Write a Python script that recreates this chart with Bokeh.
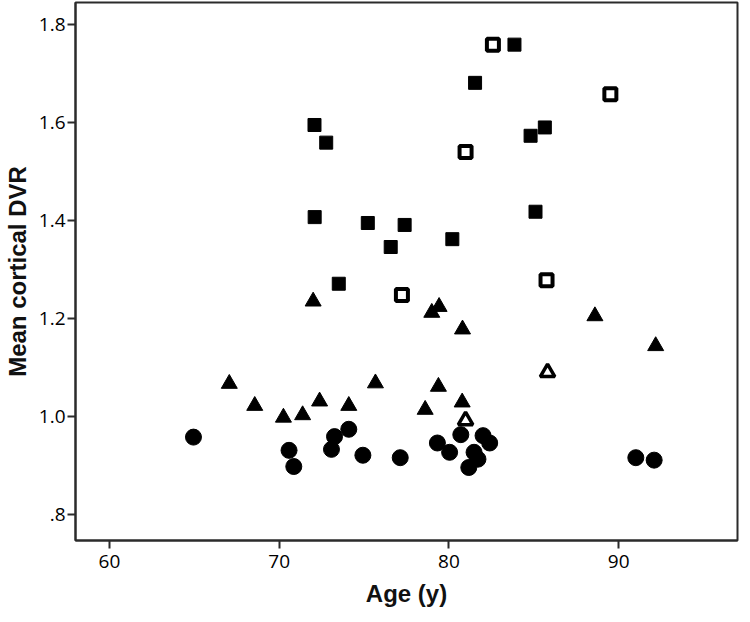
from bokeh.plotting import figure
from bokeh.models import FixedTicker, CustomJSTickFormatter, Range1d
from bokeh.embed import file_html
from bokeh.resources import INLINE

# ---- data ----
x_ticks = [60, 70, 80, 90]
y_ticks = [0.8, 1.0, 1.2, 1.4, 1.6, 1.8]

circle_age = [64.95, 70.58, 70.86, 73.26, 73.08, 74.10, 74.93, 77.13, 79.32,
              80.04, 80.70, 82.01, 82.40, 81.48, 81.71, 81.17, 91.01, 92.09]
circle_dvr = [0.958, 0.931, 0.898, 0.959, 0.933, 0.974, 0.921, 0.916, 0.946,
              0.927, 0.963, 0.961, 0.946, 0.927, 0.913, 0.896, 0.916, 0.911]

tri_age = [67.06, 68.56, 70.25, 71.38, 72.38, 74.10, 75.67, 79.38, 78.60,
           80.78, 72.00, 79.42, 78.99, 80.80, 88.60, 92.18]
tri_dvr = [1.067, 1.022, 0.998, 1.003, 1.031, 1.022, 1.068, 1.061, 1.014,
           1.029, 1.235, 1.224, 1.212, 1.178, 1.205, 1.144]

open_tri_age = [80.98, 85.81]
open_tri_dvr = [0.992, 1.090]

sq_age = [83.86, 81.54, 85.65, 84.81, 85.10, 77.39, 80.20, 72.08, 72.77,
          72.09, 75.22, 76.57, 73.51]
sq_dvr = [1.759, 1.681, 1.590, 1.573, 1.418, 1.391, 1.362, 1.595, 1.559,
          1.407, 1.395, 1.346, 1.271]

open_sq_age = [82.59, 89.51, 80.98, 77.23, 85.75]
open_sq_dvr = [1.759, 1.658, 1.540, 1.248, 1.278]

x_label = "Age (y)"
y_label = "Mean cortical DVR"

# ---- figure ----
p = figure(width=742, height=614, output_backend="svg", toolbar_location=None,
           x_range=Range1d(58.0, 97.0), y_range=Range1d(0.747, 1.845),
           min_border_left=70, min_border_right=5, min_border_top=2,
           min_border_bottom=74, background_fill_color="white",
           border_fill_color="white")

p.xgrid.visible = False
p.ygrid.visible = False
p.outline_line_color = "#2b2b2b"
p.outline_line_width = 2
p.outline_line_alpha = 1.0

p.xaxis.ticker = FixedTicker(ticks=x_ticks)
p.yaxis.ticker = FixedTicker(ticks=y_ticks)
p.yaxis.formatter = CustomJSTickFormatter(code="""
    const s = tick.toFixed(1);
    return s.startsWith('0') ? s.slice(1) : s;
""")

for ax in (p.xaxis, p.yaxis):
    ax.axis_line_color = "#2b2b2b"
    ax.axis_line_width = 2
    ax.major_tick_line_color = "#2b2b2b"
    ax.major_tick_line_width = 2
    ax.major_tick_out = 8
    ax.major_tick_in = 0
    ax.minor_tick_line_color = None
    ax.major_label_text_font = "Open Sans"
    ax.major_label_text_font_size = "19px"
    ax.major_label_text_color = "#000000"
    ax.axis_label_text_font = "Liberation Sans"
    ax.axis_label_text_font_style = "bold"
    ax.axis_label_text_font_size = "24px"
    ax.axis_label_text_color = "#111111"

p.xaxis.axis_label = x_label
p.yaxis.axis_label = y_label
p.xaxis.major_label_standoff = 6
p.xaxis.axis_label_standoff = 9
p.yaxis.major_label_standoff = 2
p.yaxis.axis_label_standoff = 5

# ---- marks ----
p.scatter(circle_age, circle_dvr, marker="circle", size=16,
          fill_color="black", line_color="black", line_width=1)
p.scatter(tri_age, tri_dvr, marker="triangle", size=16,
          fill_color="black", line_color="black", line_width=1)
p.scatter(open_tri_age, open_tri_dvr, marker="triangle", size=14.5,
          fill_color="white", line_color="black", line_width=3.5)
p.scatter(sq_age, sq_dvr, marker="square", size=13,
          fill_color="black", line_color="black", line_width=1)
p.scatter(open_sq_age, open_sq_dvr, marker="square", size=12,
          fill_color="white", line_color="black", line_width=4)

open("out.html", "w").write(file_html(p, INLINE))
